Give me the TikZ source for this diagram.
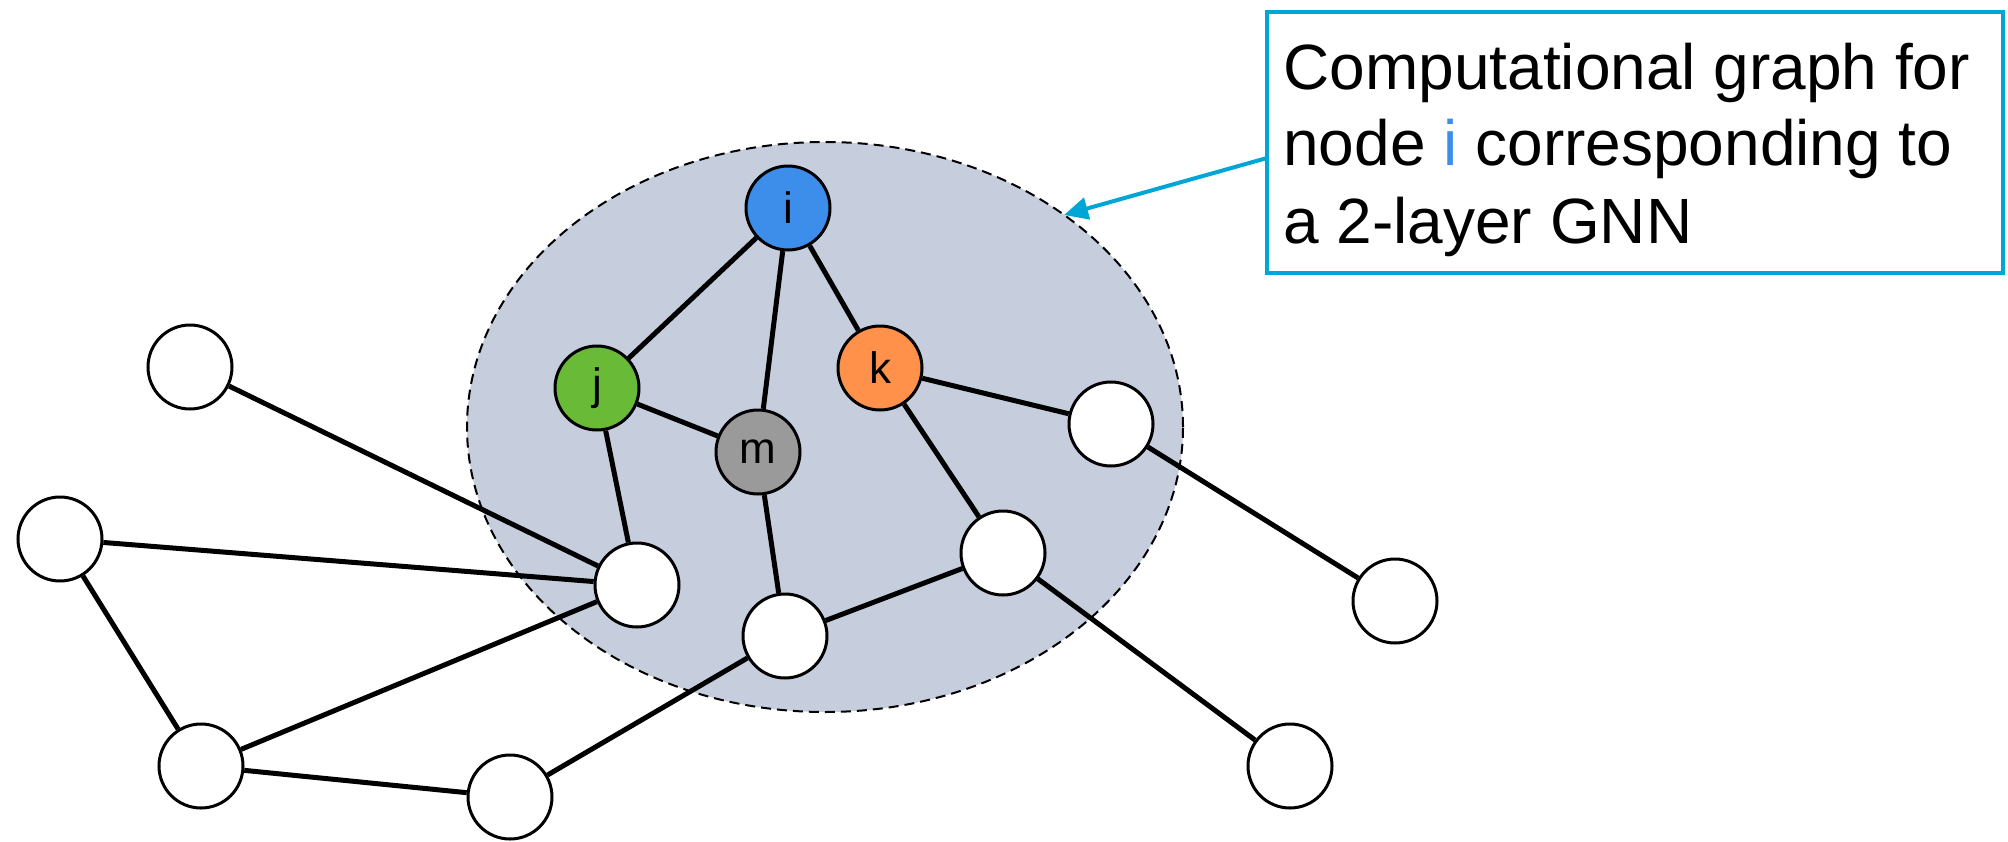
\documentclass[tikz,border=0pt]{standalone}
\usepackage{fontspec}
\setmainfont{Liberation Sans}
\usetikzlibrary{shapes.geometric,arrows.meta}
\definecolor{iblue}{HTML}{3D8EEB}
\definecolor{jgreen}{HTML}{69BB37}
\definecolor{korange}{HTML}{FF914B}
\definecolor{mgray}{HTML}{9A9A9A}
\definecolor{hood}{HTML}{C6CDDD}
\definecolor{callcyan}{HTML}{00A6D6}
\begin{document}
\begin{tikzpicture}[x=0.5pt,y=-0.5pt,
  vertex/.style={circle,draw=black,line width=1.5pt,minimum size=42pt,inner sep=0pt,fill=white,
                 font=\fontsize{22}{26}\selectfont},
  link/.style={line width=2.5pt,black},
  calltext/.style={anchor=base west,inner sep=0pt,font=\fontsize{32}{38}\selectfont}]
\useasboundingbox (0,0) rectangle (2008,841);

% neighbourhood of node i (2-hop)
\node[ellipse,draw=black,dash pattern=on 5pt off 3pt,line width=1pt,fill=hood,
      minimum width=358pt,minimum height=285pt] (hoodzone) at (825,427) {};

% nodes
\node[vertex,fill=iblue]   (i) at (788,208) {i};
\node[vertex,fill=jgreen]  (j) at (597,388) {j};
\node[vertex,fill=korange] (k) at (880,368) {k};
\node[vertex,fill=mgray]   (m) at (758,452) {m};
\node[vertex] (a) at (1111,424) {};
\node[vertex] (b) at (1003,553) {};
\node[vertex] (c) at (637,585) {};
\node[vertex] (d) at (785,636) {};
\node[vertex] (e) at (190,367) {};
\node[vertex] (f) at (60,539) {};
\node[vertex] (g) at (201,766) {};
\node[vertex] (h) at (510,797) {};
\node[vertex] (p) at (1395,601) {};
\node[vertex] (q) at (1290,766) {};

% edges
\draw[link] (i) -- (j);
\draw[link] (i) -- (m);
\draw[link] (i) -- (k);
\draw[link] (j) -- (m);
\draw[link] (j) -- (c);
\draw[link] (m) -- (d);
\draw[link] (k) -- (a);
\draw[link] (k) -- (b);
\draw[link] (a) -- (p);
\draw[link] (b) -- (d);
\draw[link] (b) -- (q);
\draw[link] (c) -- (e);
\draw[link] (c) -- (f);
\draw[link] (c) -- (g);
\draw[link] (d) -- (h);
\draw[link] (f) -- (g);
\draw[link] (g) -- (h);

% callout
\node[draw=callcyan,line width=2pt,minimum width=368pt,minimum height=130.5pt,inner sep=0pt]
  (callout) at (1635,142.5) {};
\node[calltext] (l1) at (1283,89)  {Computational graph for};
\node[calltext] (l2) at (1283,165) {node \textcolor{iblue}{i} corresponding to};
\node[calltext] (l3) at (1283,243) {a 2-layer GNN};

\coordinate (callstart) at (1267,158);
\coordinate (calltip) at (1064,215);
\draw[callcyan,line width=2pt,-{Triangle[length=12pt,width=11pt]}] (callstart) -- (calltip);
\end{tikzpicture}
\end{document}
